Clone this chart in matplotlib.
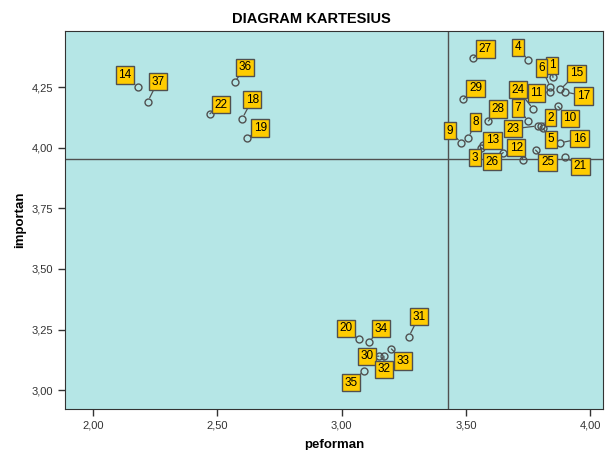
import numpy as np
import matplotlib
matplotlib.use("Agg")
import matplotlib.pyplot as plt
from matplotlib.ticker import FuncFormatter

plt.rcParams['font.family'] = ['Liberation Sans', 'DejaVu Sans']

# data: respondent id, peforman (x), importan (y)
ids = [1, 2, 3, 4, 5, 6, 7, 8, 9, 10,
       11, 12, 13, 14, 15, 16, 17, 18, 19, 20,
       21, 22, 23, 24, 25, 26, 27, 28, 29, 30,
       31, 32, 33, 34, 35, 36, 37]
peforman = [3.85, 3.80, 3.56, 3.75, 3.81, 3.84, 3.75, 3.51, 3.48, 3.87,
            3.84, 3.73, 3.57, 2.18, 3.88, 3.88, 3.90, 2.60, 2.62, 3.07,
            3.90, 2.47, 3.79, 3.77, 3.78, 3.65, 3.53, 3.59, 3.49, 3.15,
            3.27, 3.17, 3.20, 3.11, 3.09, 2.57, 2.22]
importan = [4.29, 4.09, 4.00, 4.36, 4.08, 4.25, 4.11, 4.04, 4.02, 4.17,
            4.23, 3.95, 4.01, 4.25, 4.24, 4.02, 4.23, 4.12, 4.04, 3.21,
            3.96, 4.14, 4.09, 4.16, 3.99, 3.98, 4.37, 4.11, 4.20, 3.14,
            3.22, 3.14, 3.17, 3.20, 3.08, 4.27, 4.19]

# quadrant lines
x_ref = 3.427
y_ref = 3.953

# label offsets (pixels) from each point
offsets = {1: (-1, 12), 2: (10, 8), 3: (-6, -10), 4: (-10, 13), 5: (8, -11),
           6: (-9, 19), 7: (-10, 13), 8: (7, 16), 9: (-11, 12), 10: (12, -12),
           11: (-14, -1), 12: (-7, 12), 13: (9, 5), 14: (-13, 12), 15: (16, 16),
           16: (19, 4), 17: (18, -4), 18: (10, 19), 19: (13, 10), 20: (-13, 11),
           21: (15, -9), 22: (11, 9), 23: (-25, -3), 24: (-15, 19), 25: (12, -12),
           26: (-11, -9), 27: (12, 9), 28: (10, 12), 29: (12, 11), 30: (-12, 0),
           31: (10, 20), 32: (0, -13), 33: (12, -12), 34: (12, 13), 35: (-13, -12),
           36: (10, 15), 37: (10, 20)}

fig = plt.figure(figsize=(6.05, 4.5), dpi=100)
ax = fig.add_axes([0.107, 0.091, 0.89, 0.84])
ax.set_facecolor('#B5E6E6')

ax.axvline(x_ref, color='#505050', lw=1, zorder=1)
ax.axhline(y_ref, color='#505050', lw=1, zorder=1)

ax.plot(peforman, importan, 'o', ms=5, mfc='none', mec='#505050', mew=1, zorder=3)

for i, x, y in zip(ids, peforman, importan):
    dx, dy = offsets[i]
    ax.annotate(str(i), (x, y), xytext=(dx, dy), textcoords='offset pixels',
                ha='center', va='center', fontsize=8.5, color='black', zorder=4,
                bbox=dict(boxstyle='square,pad=0.22', fc='#FFCC00', ec='#505050', lw=1),
                arrowprops=dict(arrowstyle='-', color='#505050', lw=0.9,
                                shrinkA=0, shrinkB=3))

ax.set_xlim(1.886, 4.052)
ax.set_ylim(2.922, 4.481)
ax.set_xticks([2.0, 2.5, 3.0, 3.5, 4.0])
ax.set_yticks([3.0, 3.25, 3.5, 3.75, 4.0, 4.25])
fmt = FuncFormatter(lambda v, p: ('%.2f' % v).replace('.', ','))
ax.xaxis.set_major_formatter(fmt)
ax.yaxis.set_major_formatter(fmt)
ax.tick_params(labelsize=8, colors='#333333', length=5, width=1)
for s in ax.spines.values():
    s.set_color('#333333')

ax.set_xlabel('peforman', fontsize=9.5, fontweight='bold')
ax.set_ylabel('importan', fontsize=9.5, fontweight='bold')
ax.xaxis.set_label_coords(0.5, -0.078)
ax.yaxis.set_label_coords(-0.072, 0.5)
fig.text(311 / 605, 0.958, 'DIAGRAM KARTESIUS', ha='center', va='center',
         fontsize=10.5, fontweight='bold')

fig.savefig('out.png', dpi=100)
